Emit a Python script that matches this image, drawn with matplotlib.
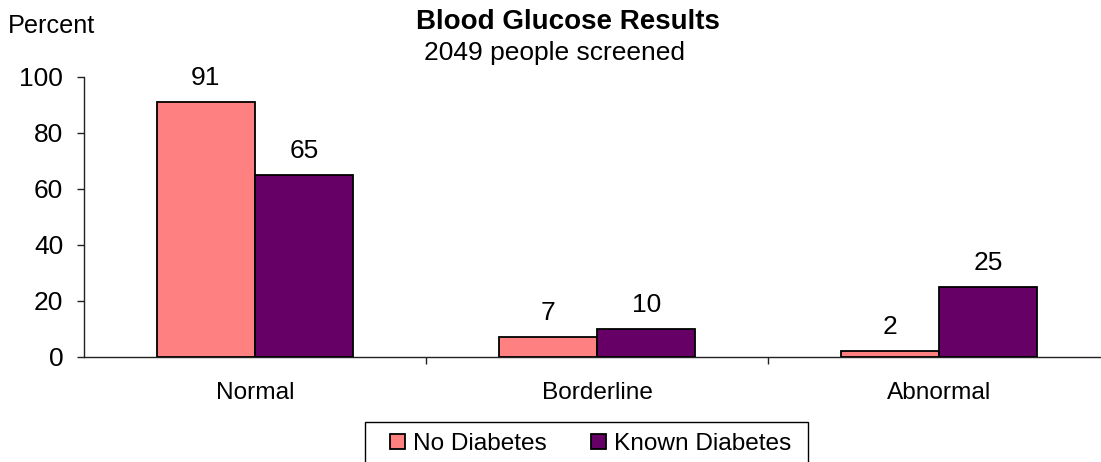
import matplotlib
matplotlib.use("Agg")
import matplotlib.pyplot as plt
from matplotlib.patches import Rectangle, Patch
import numpy as np

plt.rcParams['font.family'] = ['Liberation Sans', 'DejaVu Sans']

categories = ["Normal", "Borderline", "Abnormal"]
no_diabetes = [91, 7, 2]
known_diabetes = [65, 10, 25]
series_names = ["No Diabetes", "Known Diabetes"]
yticks = [0, 20, 40, 60, 80, 100]

PINK = "#FF8080"
PURPLE = "#660066"

W, H = 1101, 462
fig = plt.figure(figsize=(W / 100, H / 100), dpi=100)

# axes box in pixel units (left, bottom-from-top, right, top-from-top)
x0, x1 = 84, 1110
ytop, ybot = 76.5, 356.7
ax = fig.add_axes([x0 / W, 1 - ybot / H, (x1 - x0) / W, (ybot - ytop) / H])
ax.set_xlim(-0.5, 2.5)
ax.set_ylim(0, 100)

x = np.arange(len(categories))
bw = 0.288
fs = 17.6
fs_num = 19
b1 = ax.bar(x - bw / 2, no_diabetes, bw, color=PINK, edgecolor="black", linewidth=1.3, zorder=3)
b2 = ax.bar(x + bw / 2, known_diabetes, bw, color=PURPLE, edgecolor="black", linewidth=1.3, zorder=3)

for bars, vals in ((b1, no_diabetes), (b2, known_diabetes)):
    for rect, v in zip(bars, vals):
        ax.annotate(str(v), (rect.get_x() + rect.get_width() / 2, v),
                    xytext=(0, 12), textcoords="offset points",
                    ha="center", va="baseline", fontsize=fs_num)

for s in ("top", "right"):
    ax.spines[s].set_visible(False)
for s in ("left", "bottom"):
    ax.spines[s].set_linewidth(1.0)
    ax.spines[s].set_color("#222222")

ax.set_yticks(yticks)
ax.set_yticklabels([str(t) for t in yticks], fontsize=fs_num)
ax.tick_params(axis="y", length=5, width=1.0, pad=10, color="#222222")

ax.set_xticks(x)
ax.set_xticklabels(categories, fontsize=fs)
ax.tick_params(axis="x", which="major", length=0, pad=18)
ax.set_xticks([0.5, 1.5], minor=True)
ax.tick_params(axis="x", which="minor", length=5, width=1.0, color="#222222")

fig.text(568 / W, 1 - 29 / H, "Blood Glucose Results", ha="center", va="baseline",
         fontsize=20, fontweight="bold")
fig.text(554 / W, 1 - 60 / H, "2049 people screened", ha="center", va="baseline",
         fontsize=19)
fig.text(8 / W, 1 - 33 / H, "Percent", ha="left", va="baseline", fontsize=18.2)

# legend frame (runs past the lower edge of the figure)
fig.patches.append(Rectangle((365 / W, -0.1), (808 - 365) / W, 0.1 + 1 - 422 / H,
                             transform=fig.transFigure, fill=False,
                             edgecolor="black", linewidth=1.0))
handles = [Patch(facecolor=PINK, edgecolor="black", linewidth=1.3),
           Patch(facecolor=PURPLE, edgecolor="black", linewidth=1.3)]
fig.legend(handles, series_names, loc="center left",
           bbox_to_anchor=(378 / W, 1 - 444 / H), ncol=2, frameon=False,
           fontsize=fs, handlelength=0.6, handleheight=0.6, handletextpad=0.35,
           columnspacing=1.8, borderpad=0)

fig.savefig("out.png", dpi=100)
